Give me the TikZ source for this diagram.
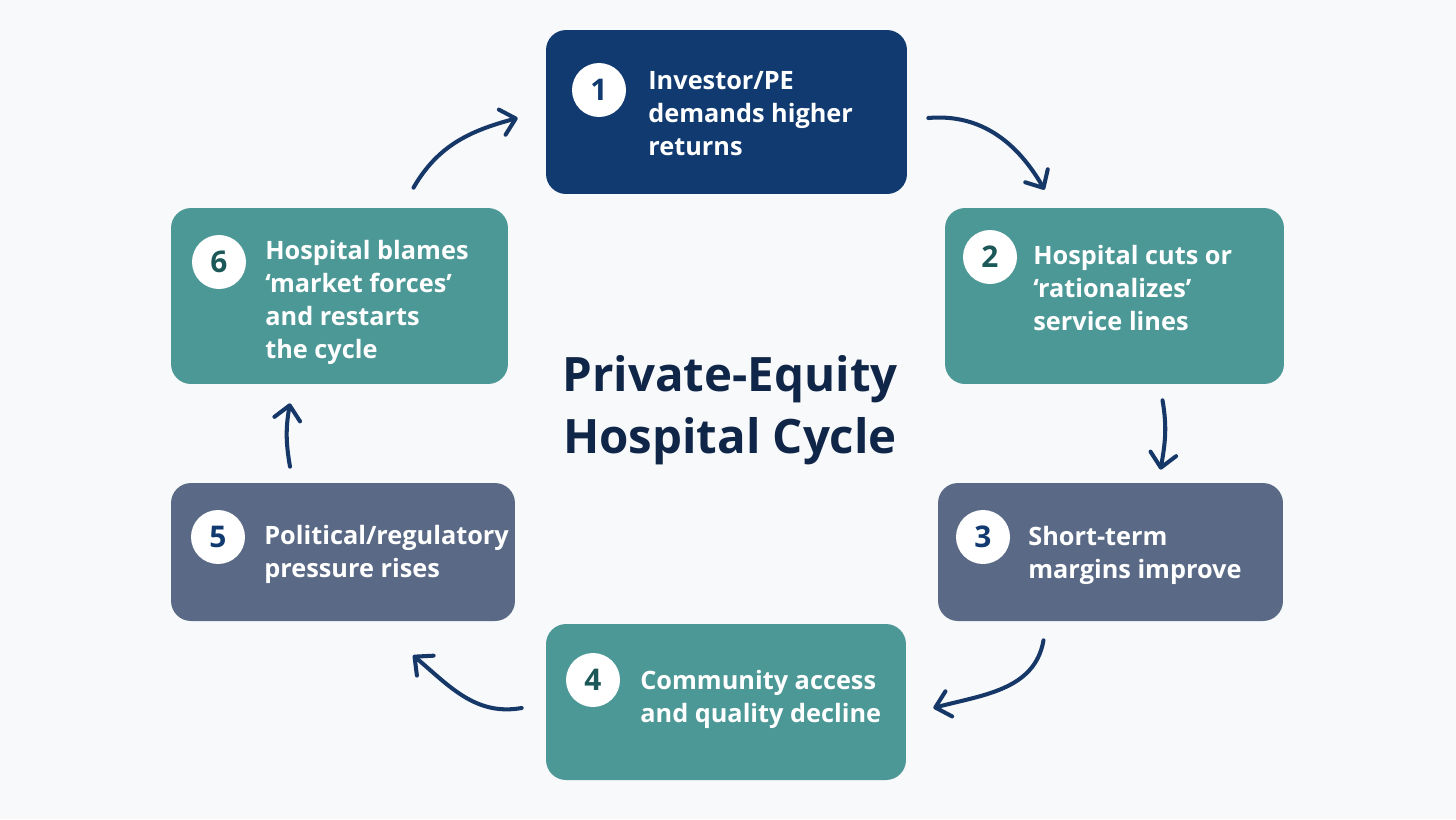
\documentclass[tikz,border=0pt]{standalone}
\usepackage{fontspec}
\setmainfont{Open Sans}
\usetikzlibrary{positioning, arrows.meta, calc}

\definecolor{navyfill}{RGB}{16,58,112}
\definecolor{tealfill}{RGB}{76,152,150}
\definecolor{slatefill}{RGB}{90,106,134}
\definecolor{arrowblue}{RGB}{22,56,104}
\definecolor{titleblue}{RGB}{16,38,72}
\definecolor{bgwhite}{RGB}{248,249,250}
\definecolor{tealnum}{RGB}{28,88,88}

\begin{document}
\begin{tikzpicture}[
    x=0.02cm, y=-0.02cm,
    box/.style={rectangle, rounded corners=0.4cm, inner sep=0pt},
    navybox/.style={box, fill=navyfill},
    tealbox/.style={box, fill=tealfill},
    slatebox/.style={box, fill=slatefill},
    numcirc/.style={circle, fill=white, minimum size=1.08cm, inner sep=0pt, font=\fontsize{17}{17}\selectfont\bfseries},
    boxtext/.style={anchor=west, align=left, text=white, inner sep=0pt, font=\fontsize{14.4}{18.8}\selectfont\bfseries},
    arrow/.style={-{Straight Barb[length=2.8mm, width=5.2mm, line cap=round, line join=round]}, line width=2.3pt, draw=arrowblue, line cap=round}
]

% background
\fill[bgwhite] (0,0) rectangle (1456,819);

% Cycle steps
\node[navybox, minimum width=7.22cm, minimum height=3.28cm] (b1) at (726.5,112) {};
\node[tealbox, minimum width=6.78cm, minimum height=3.52cm] (b2) at (1114.5,296) {};
\node[slatebox, minimum width=6.9cm, minimum height=2.76cm] (b3) at (1110.5,552) {};
\node[tealbox, minimum width=7.2cm, minimum height=3.12cm] (b4) at (726,702) {};
\node[slatebox, minimum width=6.88cm, minimum height=2.76cm] (b5) at (343,552) {};
\node[tealbox, minimum width=6.74cm, minimum height=3.52cm] (b6) at (339.5,296) {};

% Numbers
\node[numcirc, text=navyfill] (n1) at (599,90) {1};
\node[numcirc, text=tealnum] (n2) at (990,257) {2};
\node[numcirc, text=navyfill] (n3) at (983,537) {3};
\node[numcirc, text=tealnum] (n4) at (593,680) {4};
\node[numcirc, text=navyfill] (n5) at (218,537) {5};
\node[numcirc, text=tealnum] (n6) at (219,262) {6};

% Step texts
\node[boxtext] (t1) at (648,114) {Investor/PE\\demands higher\\returns};
\node[boxtext] (t2) at (1033,288) {Hospital cuts or\\‘rationalizes’\\service lines};
\node[boxtext] (t3) at (1028,555) {Short-term\\margins improve};
\node[boxtext] (t4) at (640,699) {Community access\\and quality decline};
\node[boxtext] (t5) at (264,554) {Political/regulatory\\pressure rises};
\node[boxtext] (t6) at (265,302) {Hospital blames\\‘market forces’\\and restarts\\the cycle};

% Title
\node[align=center, text=titleblue, font=\fontsize{27}{35}\selectfont\bfseries] (title) at (730,410) {Private-Equity\\Hospital Cycle};

% Arrows round the cycle
\draw[arrow] ($(b6.north)+(74,-20)$) to[out=60, in=195] ($(b1.west)+(-28,6)$);
\draw[arrow] ($(b1.east)+(21,6)$) to[out=5, in=120] ($(b2.north)+(-70,-18)$);
\draw[arrow] ($(b2.south)+(48,16)$) to[out=-80, in=80] ($(b3.north)+(50,-13)$);
\draw[arrow] ($(b3.south)+(-67,19)$) to[out=-100, in=15] ($(b4.east)+(27,6)$);
\draw[arrow] ($(b4.west)+(-24,6)$) to[out=190, in=-40] ($(b5.south)+(70,34)$);
\draw[arrow] ($(b5.north)+(-53,-16)$) to[out=100, in=-100] ($(b6.south)+(-49.5,19)$);

\end{tikzpicture}
\end{document}
